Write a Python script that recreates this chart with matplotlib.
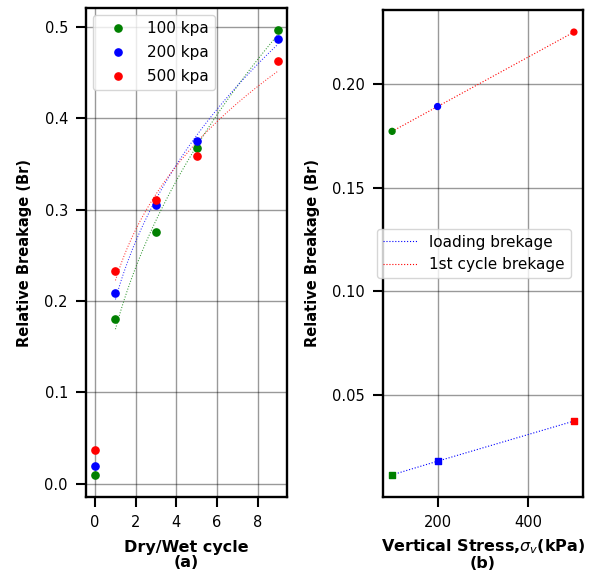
import numpy as np
import matplotlib
matplotlib.use("Agg")
import matplotlib.pyplot as plt

# (a) relative breakage vs dry/wet cycles
cycles = [0, 1, 3, 5, 9]
br_100 = [0.010, 0.180, 0.275, 0.367, 0.496]
br_200 = [0.020, 0.209, 0.305, 0.375, 0.486]
br_500 = [0.037, 0.233, 0.310, 0.358, 0.462]
series_labels = ["100 kpa", "200 kpa", "500 kpa"]
series_colors = ["green", "blue", "red"]

# (b) breakage vs vertical stress
stress = [100, 200, 500]
loading_br = [0.0112, 0.0178, 0.0372]
first_cycle_br = [0.1773, 0.1893, 0.2253]
point_colors = ["green", "blue", "red"]


def power_fit(x, y):
    # y = a*x^b, least squares roughly in linear space (weights = y)
    x = np.asarray(x, float)
    y = np.asarray(y, float)
    b, lna = np.polyfit(np.log(x), np.log(y), 1, w=y)
    return np.exp(lna), b


fig = plt.figure(figsize=(5.92, 5.75), dpi=100)
ax1 = fig.add_axes([0.1453, 0.1357, 0.3395, 0.8503])
ax2 = fig.add_axes([0.6470, 0.1357, 0.3378, 0.8470])

grid_kw = dict(color="black", alpha=0.4, linewidth=1.0)
tick_kw = dict(labelsize=10.5, width=1.5, length=7, pad=6)

## panel (a)
for ys, lab, col in zip([br_100, br_200, br_500], series_labels, series_colors):
    ax1.plot(cycles, ys, "o", color=col, markersize=5.2, label=lab, zorder=3)
    a, b = power_fit(cycles[1:], ys[1:])
    xx = np.linspace(1, 9, 100)
    ax1.plot(xx, a * xx ** b, ":", color=col, linewidth=0.75, alpha=0.8)

ax1.grid(True, **grid_kw)
ax1.set_xticks([0, 2, 4, 6, 8])
ax1.set_xlabel("Dry/Wet cycle\n(a)", fontweight="bold", fontsize=11.5,
               linespacing=1.05, labelpad=7)
ax1.set_ylabel("Relative Breakage (Br)", fontweight="bold", fontsize=10.5, labelpad=9)
ax1.tick_params(**tick_kw)
ax1.legend(loc="upper left", fontsize=11, handlelength=2.5, handletextpad=0.65,
           labelspacing=0.6, borderaxespad=0.45)
for s in ax1.spines.values():
    s.set_linewidth(1.7)

## panel (b)
ax2.plot(stress, loading_br, ":", color="blue", linewidth=0.8, label="loading brekage")
ax2.plot(stress, first_cycle_br, ":", color="red", linewidth=0.8, label="1st cycle brekage")
ax2.scatter(stress, loading_br, marker="s", s=18, c=point_colors, zorder=3)
ax2.scatter(stress, first_cycle_br, marker="o", s=18, c=point_colors, zorder=3)

ax2.grid(True, **grid_kw)
ax2.set_xticks([200, 400])
ax2.set_yticks([0.05, 0.10, 0.15, 0.20])
ax2.set_xlabel("Vertical Stress,$\\sigma_v$(kPa)\n(b)", fontweight="bold", fontsize=11.5,
               linespacing=1.0, labelpad=5)
ax2.set_ylabel("Relative Breakage (Br)", fontweight="bold", fontsize=10.5, labelpad=9)
ax2.tick_params(**tick_kw)
ax2.legend(loc="center left", bbox_to_anchor=(-0.068, 0.5), fontsize=11, handlelength=2.2)
for s in ax2.spines.values():
    s.set_linewidth(1.7)

fig.savefig("out.png", dpi=100)
